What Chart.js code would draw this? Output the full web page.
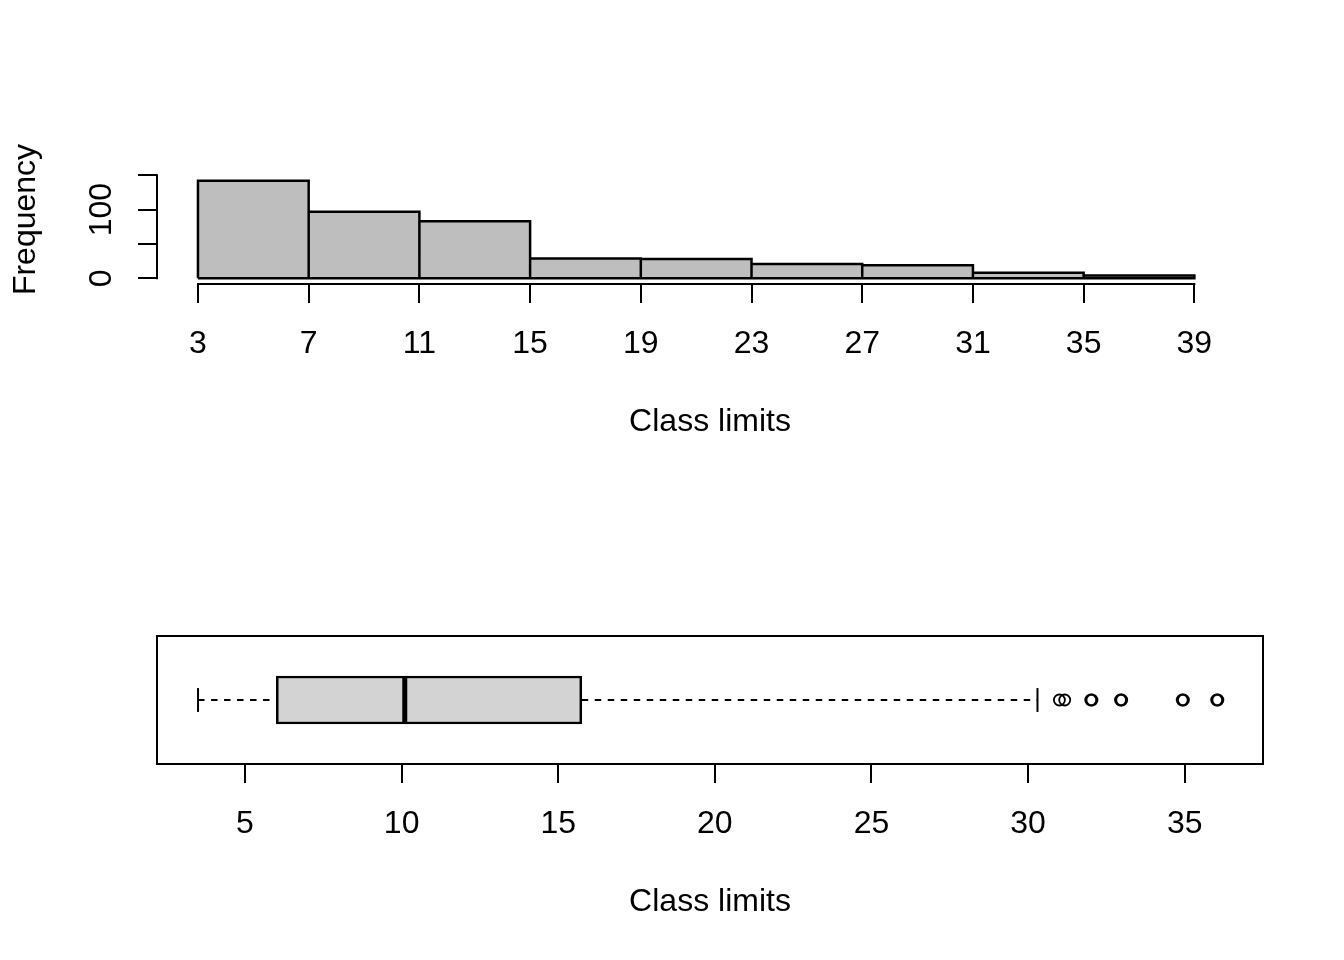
<!DOCTYPE html>
<html>
<head>
<meta charset="utf-8">
<script src="https://cdn.jsdelivr.net/npm/chart.js@4.4.1/dist/chart.umd.min.js"></script>
<style>
  html, body { margin: 0; padding: 0; background: #ffffff; }
  #wrap { position: relative; width: 1344px; height: 960px; }
  #wrap canvas { position: absolute; left: 0; }
</style>
</head>
<body>
<div id="wrap">
  <canvas id="hist" width="1344" height="480" style="top:0px"></canvas>
  <canvas id="box" width="1344" height="480" style="top:480px"></canvas>
</div>
<script>
// ---------------- data ----------------
const CLASS_BREAKS = [3, 7, 11, 15, 19, 23, 27, 31, 35, 39];
const FREQUENCIES = [142, 97, 83, 29, 28, 21, 19, 8, 4];
const HIST_X_TICKS = [3, 7, 11, 15, 19, 23, 27, 31, 35, 39];
const HIST_Y_TICKS = [0, 50, 100, 150];
const HIST_Y_LABELS = ['0', '', '100', ''];

const BOX_LOWER_WHISKER = 3.5;
const BOX_Q1 = 6.0;
const BOX_MEDIAN = 10.1;
const BOX_Q3 = 15.75;
const BOX_UPPER_WHISKER = 30.3;
const BOX_OUTLIERS = [31.0, 31.17, 32.0, 32.04, 32.95, 32.99, 34.92, 34.96, 36.02, 36.06];
const BOX_X_TICKS = [5, 10, 15, 20, 25, 30, 35];

const X_TITLE = 'Class limits';
const Y_TITLE = 'Frequency';

// ---------------- style ----------------
Chart.defaults.font.family = "'Liberation Sans', Arial, Helvetica, sans-serif";
Chart.defaults.font.size = 32;
Chart.defaults.color = '#000000';

const BOX_ROW = 1;          // y position of the single box
const BOX_HALF = 0.187;     // half box height in y units
const CAP_HALF = 0.097;     // half staple height in y units

// R-style axis lines (from first to last tick) and optional frame
const rAxisLines = {
  id: 'rAxisLines',
  afterDraw(chart, args, opts) {
    const ctx = chart.ctx;
    ctx.save();
    ctx.strokeStyle = '#000';
    ctx.lineWidth = 2;
    (opts.axes || []).forEach(id => {
      const s = chart.scales[id];
      const t = s.ticks;
      if (!t.length) return;
      const a = s.getPixelForValue(t[0].value);
      const b = s.getPixelForValue(t[t.length - 1].value);
      ctx.beginPath();
      if (s.isHorizontal()) {
        ctx.moveTo(Math.min(a, b) - 1, s.top);
        ctx.lineTo(Math.max(a, b) + 1, s.top);
      } else {
        ctx.moveTo(s.right, Math.max(a, b) + 1);
        ctx.lineTo(s.right, Math.min(a, b) - 1);
      }
      ctx.stroke();
    });
    if (opts.frame) {
      const c = chart.chartArea;
      ctx.strokeRect(c.left, c.top, c.right - c.left, c.bottom - c.top);
    }
    ctx.restore();
  }
};

const tickGrid = { display: true, drawOnChartArea: false, drawTicks: true, tickLength: 19, color: '#000', lineWidth: 2, offset: false };
const xTitle = { display: true, text: X_TITLE, color: '#000', font: { size: 32 }, padding: { top: 0, bottom: 39 } };

// ---------------- histogram ----------------
const histData = FREQUENCIES.map((f, i) => ({ x: (CLASS_BREAKS[i] + CLASS_BREAKS[i + 1]) / 2, y: f }));
// outline path of every class rectangle (R draws each rect with a centred border)
const histOutline = [];
FREQUENCIES.forEach((f, i) => {
  const L = CLASS_BREAKS[i], R = CLASS_BREAKS[i + 1];
  histOutline.push({ x: L, y: 0 }, { x: L, y: f }, { x: R, y: f }, { x: R, y: 0 });
});
histOutline.push({ x: CLASS_BREAKS[0], y: 0 });

new Chart(document.getElementById('hist'), {
  type: 'bar',
  data: {
    datasets: [
      {
        type: 'line',
        order: 0,
        data: histOutline,
        borderColor: '#000000',
        borderWidth: 2.5,
        pointRadius: 0,
        fill: false,
        tension: 0,
        borderJoinStyle: 'miter'
      },
      {
        order: 1,
        data: histData,
        backgroundColor: '#BEBEBE',
        borderWidth: 0,
        categoryPercentage: 1,
        barPercentage: 1
      }
    ]
  },
  options: {
    responsive: false,
    animation: false,
    events: [],
    layout: { autoPadding: false, padding: { top: 155, right: 81, bottom: 0, left: 0 } },
    plugins: { legend: { display: false }, tooltip: { enabled: false }, rAxisLines: { axes: ['x', 'y'] } },
    scales: {
      x: {
        type: 'linear', min: 1.52, max: 41.48, offset: false,
        afterBuildTicks: s => { s.ticks = HIST_X_TICKS.map(v => ({ value: v })); },
        afterFit: s => { s.height = 196; },
        grid: tickGrid,
        border: { display: false },
        ticks: { autoSkip: false, maxRotation: 0, minRotation: 0, padding: 22, color: '#000', callback: v => String(v) },
        title: xTitle
      },
      y: {
        type: 'linear', min: -8.3, max: 179.6, offset: false,
        afterBuildTicks: s => { s.ticks = HIST_Y_TICKS.map(v => ({ value: v })); },
        afterFit: s => { s.width = 157; },
        grid: tickGrid,
        border: { display: false },
        ticks: { autoSkip: false, minRotation: 90, maxRotation: 90, crossAlign: 'center', padding: 9, color: '#000',
                 callback: (v, i) => HIST_Y_LABELS[i] },
        title: { display: true, text: Y_TITLE, color: '#000', font: { size: 32 }, padding: { top: 7, bottom: 0 } }
      }
    }
  },
  plugins: [rAxisLines]
});

// ---------------- boxplot ----------------
const lineDs = (pts, extra) => Object.assign({
  type: 'line', data: pts, borderColor: '#000', borderWidth: 2, pointRadius: 0, fill: false, borderCapStyle: 'butt', order: 3
}, extra || {});

new Chart(document.getElementById('box'), {
  type: 'scatter',
  data: {
    datasets: [
      lineDs([{ x: BOX_MEDIAN, y: BOX_ROW - BOX_HALF }, { x: BOX_MEDIAN, y: BOX_ROW + BOX_HALF }], { borderWidth: 5, order: 0 }),
      {
        type: 'scatter', order: 1,
        data: BOX_OUTLIERS.map(v => ({ x: v, y: BOX_ROW })),
        pointStyle: 'circle', pointRadius: 5.5, pointBorderWidth: 1.8,
        pointBackgroundColor: 'rgba(0,0,0,0)', pointBorderColor: '#000', showLine: false
      },
      {
        type: 'bar', indexAxis: 'y', order: 2,
        data: [{ x: [BOX_Q1, BOX_Q3], y: BOX_ROW }],
        backgroundColor: '#D3D3D3', borderColor: '#000', borderWidth: 2.5, borderSkipped: false,
        barThickness: 48
      },
      lineDs([{ x: BOX_LOWER_WHISKER, y: BOX_ROW }, { x: BOX_Q1, y: BOX_ROW }], { borderDash: [6.5, 6.5] }),
      lineDs([{ x: BOX_Q3, y: BOX_ROW }, { x: BOX_UPPER_WHISKER, y: BOX_ROW }], { borderDash: [6.5, 6.5] }),
      lineDs([{ x: BOX_LOWER_WHISKER, y: BOX_ROW - CAP_HALF }, { x: BOX_LOWER_WHISKER, y: BOX_ROW + CAP_HALF }]),
      lineDs([{ x: BOX_UPPER_WHISKER, y: BOX_ROW - CAP_HALF }, { x: BOX_UPPER_WHISKER, y: BOX_ROW + CAP_HALF }])
    ]
  },
  options: {
    responsive: false,
    animation: false,
    events: [],
    layout: { autoPadding: false, padding: { top: 156, right: 81, bottom: 0, left: 157 } },
    plugins: { legend: { display: false }, tooltip: { enabled: false }, rAxisLines: { axes: [], frame: true } },
    scales: {
      x: {
        type: 'linear', min: 2.19, max: 37.5, offset: false,
        afterBuildTicks: s => { s.ticks = BOX_X_TICKS.map(v => ({ value: v })); },
        afterFit: s => { s.height = 196; },
        grid: tickGrid,
        border: { display: false },
        ticks: { autoSkip: false, maxRotation: 0, minRotation: 0, padding: 22, color: '#000', callback: v => String(v) },
        title: xTitle
      },
      y: { type: 'linear', display: false, min: 0.48, max: 1.52, offset: false, grid: { offset: false } }
    }
  },
  plugins: [rAxisLines]
});
</script>
</body>
</html>
